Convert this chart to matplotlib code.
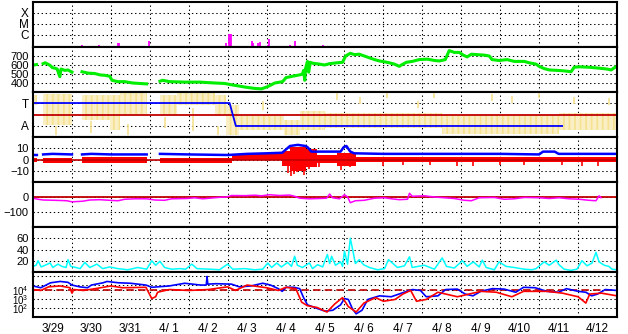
import numpy as np
import matplotlib
matplotlib.use('Agg')
import matplotlib.pyplot as plt
from matplotlib.ticker import NullLocator

# ==================== fonts ====================
plt.rcParams['font.family'] = ['Liberation Sans', 'DejaVu Sans']
plt.rcParams['mathtext.fontset'] = 'custom'
plt.rcParams['mathtext.rm'] = 'Liberation Sans'
plt.rcParams['mathtext.default'] = 'regular'
plt.rcParams['hatch.linewidth'] = 1.2

nan = np.nan

# ==================== data (time in days from 3/29 00:00) ====================
day_labels = ['3/29', '3/30', '3/31', '4/ 1', '4/ 2', '4/ 3', '4/ 4', '4/ 5',
              '4/ 6', '4/ 7', '4/ 8', '4/ 9', '4/10', '4/11', '4/12']

# 1. X-ray flares (log10 peak flux)
flare_day = [0.01, 0.27, 1.26, 1.69, 2.19, 2.22, 2.56, 2.97, 3.82, 4.67, 4.81, 4.95,
             5.04, 5.06, 5.09, 5.15, 5.21, 5.62, 5.65, 5.71, 5.79, 5.82, 6.03, 6.05,
             6.59, 6.72, 7.44]
flare_log = [-6.55, -7.0, -6.96, -6.96, -6.69, -6.69, -7.0, -6.55, -7.0, -7.0, -7.0, -6.74,
             -5.87, -5.87, -5.92, -7.0, -7.0, -6.51, -6.78, -7.0, -6.74, -6.65, -6.96, -6.37,
             -6.92, -6.51, -6.92]

# 2. solar wind speed (km/s)
speed_day = [0.03, 0.09, nan,
             0.26, 0.31, 0.38, 0.44, 0.5, 0.56, 0.62, 0.69, 0.72, 0.82, 0.9, 1.0, nan,
             1.26, 1.41, 1.59, 1.72, 1.85, 1.97, 2.03, 2.18, 2.36, 2.56, 2.74, 2.92, nan,
             3.26, 3.33, 3.51, 3.9, 4.28, 4.67, 4.92, 5.1, 5.31, 5.44, 5.69, 5.87, 6.03,
             6.21, 6.41, 6.5, 6.72, 6.85, 6.92, 6.95, 6.98, 7.0, 7.05, 7.08, 7.12, 7.18,
             7.36, 7.49, 7.62, 7.82, 7.95, 8.03, 8.15, 8.26, 8.38, 8.51, 8.64, 8.77, 8.9,
             9.03, 9.15, 9.28, 9.41, 9.46, 9.59, 9.74, 9.92, 10.13, 10.31, 10.44, 10.59,
             10.69, 10.82, 10.95, 11.05, 11.15, 11.26, 11.41, 11.59, 11.72, 11.79, 11.97,
             12.18, 12.36, 12.62, 12.74, 12.92, 13.0, 13.13, 13.26, 13.46, 13.64, 13.82,
             13.9, 14.03, 14.28, 14.54, 14.74, 14.85, 15.0]
speed_kms = [600, 605, nan,
             615, 625, 610, 595, 570, 565, 555, 470, 555, 540, 545, 520, nan,
             525, 510, 505, 490, 485, 475, 430, 415, 415, 400, 395, 390, nan,
             420, 430, 415, 410, 410, 400, 395, 380, 365, 355, 340, 335, 360,
             400, 415, 460, 480, 490, 500, 540, 430, 560, 640, 520, 630, 620,
             610, 600, 615, 625, 630, 700, 730, 715, 720, 700, 680, 660, 645,
             635, 625, 610, 585, 600, 630, 640, 660, 665, 650, 645, 660,
             760, 740, 740, 710, 690, 720, 715, 710, 700, 660, 650,
             660, 640, 640, 625, 610, 585, 560, 545, 540, 535, 525,
             575, 580, 575, 565, 555, 545, 590]

# 3. IMF sector (T = +1, A = -1)
sector_start = [0.0, 0.26, 1.26, 1.97, 2.23, 3.26, 3.7, 4.67, 4.97, 5.3, 6.45, 6.85, 7.5, 10.5, 13.5]
sector_end = [0.1, 1.0, 1.97, 2.23, 2.92, 3.7, 4.67, 4.97, 5.3, 6.45, 6.85, 7.5, 10.5, 13.5, 15.0]
sector_lo = [0.8, -0.9, -0.5, -1.35, 0.0, -0.05, 0.8, -0.04, -1.78, -1.35, -1.78, -1.35, -1.2, -1.7, -1.35]
sector_hi = [1.7, 1.75, 1.7, 1.7, 1.85, 1.7, 1.87, 1.7, 0.8, -0.04, -0.5, 0.3, 0.13, -0.04, 0.13]
sector_spike_day = [0.6, 1.5, 2.45, 3.4, 4.1, 4.75, 5.9, 7.8, 8.4, 9.1, 9.9, 10.3, 11.8, 12.3, 13.0, 13.9, 14.8]
sector_spike_lo = [-1.8, -1.6, -1.8, -1.2, -1.4, -1.8, 0.4, 1.3, 0.9, 1.4, 0.6, 1.4, 1.2, 1.0, 1.4, 0.9, 0.8]
sector_spike_hi = [-1.0, -0.6, -0.8, -0.2, 0.6, -1.0, 1.2, 1.9, 1.5, 1.9, 1.2, 1.9, 1.8, 1.6, 1.9, 1.5, 1.4]
sector_line_day = [0.0, 5.05, 5.13, 5.21, 13.59]
sector_line_val = [1, 1, 0, -1, -1]

# 4. IMF Bt (blue) and Bz (red) in nT
bt_day = [0.03, 0.1, nan, 0.26, 0.5, 1.0, nan, 1.26, 1.5, 2.0, 2.5, 2.92, nan,
          3.26, 4.0, 5.0, 5.5, 6.0, 6.4, 6.5, 6.6, 6.8, 7.0, 7.05, 7.15, 7.5, 7.9,
          7.98, 8.05, 8.15, 8.25, 9.0, 10.0, 11.0, 12.0, 13.0, 13.1, 13.4, 13.5, 14.0, 15.0]
bt_nt = [4, 4, nan, 4.5, 5, 4.5, nan, 4.5, 5, 4.5, 4.5, 4.5, nan,
         5, 4.5, 4, 5, 5.5, 6, 9, 12, 13, 12, 11, 7, 7, 7,
         11, 12, 7, 5.5, 5, 5, 5, 5, 4.5, 7, 7, 5, 5, 5]
bz_start = [0.03, 0.26, 1.26, 3.26, 5.1, 6.4, 6.6, 7.0, 7.3, 7.8, 8.3]
bz_end = [0.1, 1.0, 2.92, 5.1, 6.4, 6.6, 7.0, 7.3, 7.8, 8.3, 15.0]
bz_lo = [-2, -3.5, -3.5, -3, 0, -6, -10, -7, -3, -6, -2.5]
bz_hi = [1, 1.5, 2, 1.5, 4.5, 8, 11, 9, 4, 6, 2.5]
bz_spike_day = [6.55, 6.62, 6.7, 6.78, 6.9, 6.96, 7.1, 7.35, 7.9, 8.15, 9.0, 9.5,
                10.2, 10.9, 11.3, 12.0, 12.6, 13.6, 14.1, 14.5]
bz_spike_nt = [-12, -15, -13, -11, -9, -14, -8, -7, -9, -7, -6, -5,
               -5, -6, -6, -5, -5, -5, -6, -6]

# 5. Dst (nT)
dst_day = [0.0, 0.13, 0.26, 0.56, 0.87, 1.0, 1.15, 1.28, 1.46, 1.72, 1.97, 2.18, 2.36, 2.62,
           2.92, 3.13, 3.38, 3.56, 3.95, 4.15, 4.36, 4.54, 4.79, 4.97, 5.1, 5.44, 5.69, 5.87,
           6.08, 6.33, 6.59, 6.72, 6.85, 7.1, 7.36, 7.54, 7.62, 7.69, 7.87, 8.0, 8.08, 8.15,
           8.28, 8.51, 8.77, 9.03, 9.21, 9.41, 9.62, 9.67, 9.74, 10.05, 10.31, 10.56, 10.82,
           11.08, 11.26, 11.46, 11.85, 12.1, 12.36, 12.62, 13.0, 13.26, 13.51, 13.77, 14.03,
           14.28, 14.46, 14.54, 14.59]
dst_nt = [-8, -15, -20, -22, -25, -32, -30, -28, -20, -18, -22, -25, -15, -12,
          -12, -20, -22, -12, -10, -5, -12, -8, -2, 0, 10, 9, 12, 8,
          15, 10, 13, 5, -8, -12, -10, -8, 20, -5, -12, 15, 0, -38,
          -25, -22, -8, -5, -12, -18, -15, 25, 5, 8, 0, -5, -10,
          -22, -25, -5, -3, -15, -12, -3, -5, -10, -5, -12, -15,
          -22, -25, 8, -5]

# 6. density-like index (cyan)
cyan_day = [0.0, 0.08, 0.13, 0.21, 0.31, 0.44, 0.51, 0.64, 0.74, 0.85, 0.9, 0.97, 1.1, 1.21,
            1.33, 1.46, 1.64, 1.79, 1.97, 2.18, 2.44, 2.69, 2.92, 3.05, 3.15, 3.26, 3.38,
            3.56, 3.77, 3.92, 4.08, 4.21, 4.54, 4.79, 5.0, 5.13, 5.44, 5.69, 5.9, 6.03, 6.13,
            6.26, 6.38, 6.54, 6.64, 6.72, 6.79, 6.92, 7.1, 7.18, 7.31, 7.44, 7.56, 7.62,
            7.67, 7.77, 7.9, 7.95, 8.0, 8.08, 8.15, 8.21, 8.28, 8.38, 8.49, 8.64, 8.85,
            9.03, 9.13, 9.23, 9.36, 9.54, 9.67, 9.74, 10.05, 10.31, 10.51, 10.62, 10.82,
            11.03, 11.15, 11.31, 11.46, 11.54, 11.64, 11.85, 11.97, 12.15, 12.36, 12.62,
            12.82, 12.92, 13.13, 13.26, 13.44, 13.51, 13.64, 13.82, 13.97, 14.1, 14.23,
            14.36, 14.46, 14.54, 14.67, 14.79, 14.87, 15.0]
cyan_val = [10, 12, 20, 9, 12, 16, 8, 14, 10, 8, 22, 10, 8, 6,
            17, 8, 14, 6, 9, 6, 4, 8, 5, 20, 12, 19, 8,
            5, 6, 5, 14, 6, 5, 4, 14, 5, 6, 4, 5, 16, 8,
            16, 9, 17, 10, 28, 12, 8, 16, 6, 13, 9, 31, 15,
            28, 12, 18, 10, 37, 14, 60, 40, 15, 22, 13, 8, 4,
            6, 22, 16, 8, 11, 27, 8, 12, 5, 25, 10, 7,
            20, 10, 18, 9, 21, 8, 4, 18, 10, 8, 5,
            4, 6, 18, 12, 21, 13, 5, 3, 5, 20, 11,
            16, 35, 18, 12, 10, 5, 4]

# 7. electron flux (log10), blue and red
eb_day = [0.0, 0.2, 0.45, 0.7, 0.9, 1.0, 1.2, 1.4, 1.5, 1.8, 1.9, 2.2, 2.5, 2.9, 3.05, 3.2,
          3.5, 3.9, 4.3, 4.45, 4.47, 4.49, 4.7, 5.1, 5.3, 5.6, 5.9, 6.1, 6.3, 6.4, 6.5, 6.7,
          6.85, 6.95, 7.05, 7.3, 7.5, 7.7, 7.9, 8.0, 8.1, 8.2, 8.3, 8.45, 8.6, 8.9, 9.2, 9.4,
          9.6, 9.75, 9.95, 10.1, 10.4, 10.6, 10.9, 11.1, 11.3, 11.5, 11.8, 12.1, 12.4, 12.6,
          12.9, 13.2, 13.5, 13.7, 14.0, 14.2, 14.35, 14.5, 14.7, 15.0]
eb_log = [4.5, 4.3, 4.85, 5.0, 4.9, 4.6, 4.4, 4.3, 4.6, 4.85, 5.0, 4.85, 4.8, 4.6, 4.35, 4.4,
          4.5, 4.8, 4.6, 4.6, 5.55, 4.7, 4.75, 4.7, 4.4, 4.5, 4.8, 4.6, 4.2, 3.9, 4.35, 4.35,
          4.2, 3.2, 2.4, 2.0, 1.7, 1.8, 2.4, 3.1, 3.0, 2.0, 1.4, 1.8, 3.0, 3.4, 3.3, 3.6,
          3.9, 4.1, 4.0, 3.3, 3.4, 4.1, 4.15, 3.6, 3.4, 3.9, 4.2, 4.15, 3.8, 4.35,
          4.3, 3.9, 3.8, 4.2, 3.9, 3.8, 3.4, 3.6, 4.1, 4.0]
er_day = [0.0, 0.2, 0.4, 0.7, 0.95, 1.0, 1.05, 1.3, 1.6, 2.0, 2.3, 2.9, 3.05, 3.15, 3.2, 3.5,
          4.0, 4.5, 5.0, 5.2, 5.5, 6.0, 6.3, 6.5, 6.75, 6.9, 7.05, 7.3, 7.55, 7.75, 7.95, 8.1,
          8.3, 8.5, 8.8, 9.0, 9.3, 9.5, 9.7, 9.85, 10.1, 10.4, 10.7, 10.9, 11.2, 11.5, 11.9,
          12.3, 12.6, 13.2, 13.6, 14.0, 14.2, 14.3, 14.6, 15.0]
er_log = [4.1, 4.0, 4.4, 4.5, 4.3, 3.7, 4.1, 4.0, 4.2, 4.5, 4.3, 4.35, 3.1, 3.3, 3.8, 4.1,
          4.0, 4.1, 4.4, 4.0, 4.6, 4.3, 4.0, 4.35, 4.2, 2.7, 2.3, 2.1, 1.6, 2.5, 3.2, 2.2,
          1.6, 2.6, 3.2, 2.8, 3.0, 3.6, 4.0, 2.8, 3.0, 3.8, 3.5, 3.3, 3.6, 3.9, 3.8,
          3.3, 3.9, 3.9, 3.7, 3.3, 2.6, 3.6, 3.7, 3.4]

# ==================== figure ====================
fig, axes = plt.subplots(7, 1, figsize=(6.28, 3.34), dpi=100, sharex=True)
fig.subplots_adjust(left=33/628, right=617/628, top=1-2/334, bottom=1-317/334, hspace=0)

dot = (0, (1.3, 2.6))
dark_red = '#c00000'
pale_yellow = '#f5e190'
for ax in axes:
    ax.set_xlim(0, 15)
    ax.set_xticks(np.arange(1, 15), minor=True)
    ax.grid(which='minor', axis='x', color='black', linestyle=dot, linewidth=0.75)
    ax.grid(which='major', axis='y', color='black', linestyle=dot, linewidth=0.75)
    ax.tick_params(which='both', length=0, labelsize=8, pad=3)
    for s in ax.spines.values():
        s.set_linewidth(1.5)
    ax.set_axisbelow(True)

axes[-1].set_xticks(np.arange(15) + 0.5, day_labels)
axes[-1].tick_params(axis='x', pad=4, labelsize=8.5)

# 1. flares
ax = axes[0]
ax.set_yscale('log')
ax.set_ylim(10**-7.1, 1e-3)
ax.set_yticks([1e-4, 1e-5, 1e-6], ['X', 'M', 'C'])
ax.tick_params(axis='y', labelsize=8.5)
ax.yaxis.set_minor_locator(NullLocator())
ax.vlines(flare_day, 10**-7.1, 10**np.array(flare_log), color='#ff00ff', lw=1.3)

# 2. speed
ax = axes[1]
ax.set_ylim(300, 800)
ax.set_yticks([700, 600, 500, 400])
ax.plot(speed_day, speed_kms, color='#00ee00', lw=2.2)

# 3. sector
ax = axes[2]
ax.set_ylim(-1.96, 1.96)
ax.set_yticks([1, -1], ['T', 'A'])
ax.tick_params(axis='y', labelsize=8.5)
ax.bar(sector_start, np.array(sector_hi) - np.array(sector_lo), width=np.array(sector_end) - np.array(sector_start),
       bottom=sector_lo, align='edge', facecolor='#faefc4', edgecolor=pale_yellow, hatch='|||', linewidth=0)
ax.vlines(sector_spike_day, sector_spike_lo, sector_spike_hi, color=pale_yellow, lw=1.2)
ax.axhline(0, color=dark_red, lw=1.3)
ax.plot(sector_line_day, sector_line_val, color='#0000ff', lw=1.3)

# 4. Bt / Bz
ax = axes[3]
ax.set_ylim(-20, 20)
ax.set_yticks([10, 0, -10])
ax.plot(bt_day, bt_nt, color='#0000ff', lw=1.8)
ax.bar(bz_start, np.array(bz_hi) - np.array(bz_lo), width=np.array(bz_end) - np.array(bz_start),
       bottom=bz_lo, align='edge', color='#ff0000', linewidth=0)
ax.vlines(bz_spike_day, 0, bz_spike_nt, color='#ff0000', lw=1.2)
ax.axhline(0, color=dark_red, lw=1.2)

# 5. Dst
ax = axes[4]
ax.set_ylim(-200, 100)
ax.set_yticks([0, -100])
ax.axhline(0, color=dark_red, lw=1.3)
ax.plot(dst_day, dst_nt, color='#ff00ff', lw=1.1)

# 6. cyan
ax = axes[5]
ax.set_ylim(0, 80)
ax.set_yticks([60, 40, 20])
ax.plot(cyan_day, cyan_val, color='#00ffff', lw=1.1)

# 7. electron flux
ax = axes[6]
ax.set_yscale('log')
ax.set_ylim(10**1.05, 10**6.05)
ax.set_yticks([1e4, 1e3, 1e2, 10**4.6, 10**5.6], [r'$10^4$', r'$10^3$', r'$10^2$', '', ''])
ax.tick_params(axis='y', labelsize=7)
ax.yaxis.set_minor_locator(NullLocator())
ax.axhline(1e4, color=dark_red, lw=1.2, linestyle=(0, (4.5, 2.5)))
ax.plot(eb_day, 10**np.array(eb_log), color='#0000ff', lw=1.2)
ax.plot(er_day, 10**np.array(er_log), color='#ff0000', lw=1.2)

fig.savefig('out.png', dpi=100)
